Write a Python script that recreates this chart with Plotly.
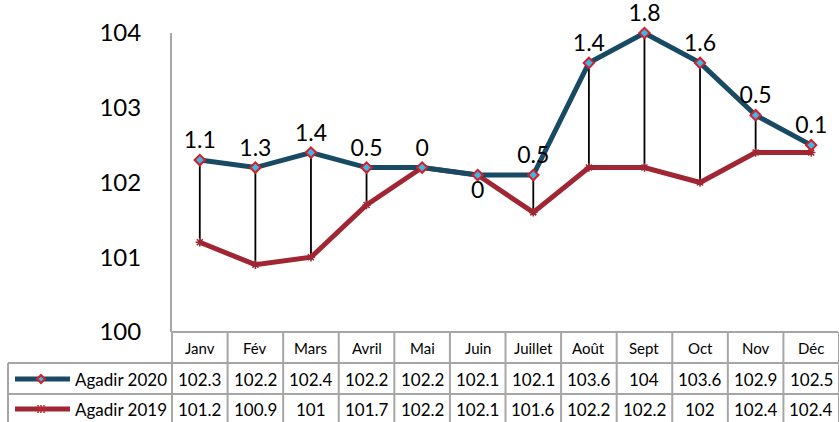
import plotly.graph_objects as go

months = ["Janv", "Fév", "Mars", "Avril", "Mai", "Juin", "Juillet", "Août", "Sept", "Oct", "Nov", "Déc"]
agadir_2020 = [102.3, 102.2, 102.4, 102.2, 102.2, 102.1, 102.1, 103.6, 104, 103.6, 102.9, 102.5]
agadir_2019 = [101.2, 100.9, 101, 101.7, 102.2, 102.1, 101.6, 102.2, 102.2, 102, 102.4, 102.4]
series_names = ["Agadir 2020", "Agadir 2019"]
y_ticks = [100, 101, 102, 103, 104]

C2020 = "#184A63"
C2019 = "#A02633"
GRID = "#A6A6A6"
FONT = "Lato"

W, H = 839, 422
ML, MR, MT, MB = 172, 0, 33, 90

diffs = [round(a - b, 1) for a, b in zip(agadir_2020, agadir_2019)]
labels = [f"{d:g}" for d in diffs]
positions = ["bottom center" if m == "Juin" else "top center" for m in months]

fig = go.Figure()

# drop lines between the two series
dx, dy = [], []
for m, a, b in zip(months, agadir_2020, agadir_2019):
    dx += [m, m, None]
    dy += [a, b, None]
fig.add_trace(go.Scatter(x=dx, y=dy, mode="lines", line=dict(color="black", width=1.8),
                         hoverinfo="skip", showlegend=False))

fig.add_trace(go.Scatter(
    x=months, y=agadir_2019, mode="lines+markers", name=series_names[1],
    line=dict(color=C2019, width=5),
    marker=dict(symbol="asterisk-open", size=7, line=dict(color="#C0282D", width=1.5)),
    showlegend=False, cliponaxis=False))

fig.add_trace(go.Scatter(
    x=months, y=agadir_2020, mode="lines+markers+text", name=series_names[0],
    line=dict(color=C2020, width=5),
    marker=dict(symbol="diamond", size=8, color="#3FB6E8", line=dict(color="#D0202A", width=2)),
    text=labels, textposition=positions,
    textfont=dict(family=FONT, size=23, color="black"),
    showlegend=False, cliponaxis=False))

shapes = []
ann = []

def hline(yoff, x_from_px):
    shapes.append(dict(type="line", xref="paper", yref="paper",
                       xsizemode="pixel", xanchor=0, ysizemode="pixel", yanchor=0,
                       x0=x_from_px, x1=W - ML - 1, y0=yoff, y1=yoff,
                       line=dict(color=GRID, width=2), layer="above"))

hline(0, 0)
hline(-31, 8 - ML)
hline(-62, 8 - ML)
hline(-92, 8 - ML)
# left border of legend column
shapes.append(dict(type="line", xref="paper", yref="paper", xsizemode="pixel", xanchor=0,
                   ysizemode="pixel", yanchor=0, x0=8 - ML, x1=8 - ML, y0=-31, y1=-92,
                   line=dict(color=GRID, width=2)))
# axis column border
shapes.append(dict(type="line", xref="paper", yref="paper", xsizemode="pixel", xanchor=0,
                   ysizemode="pixel", yanchor=0, x0=0, x1=0, y0=0, y1=-92,
                   line=dict(color=GRID, width=2)))
# category borders
for i in range(len(months)):
    shapes.append(dict(type="line", xref="x", yref="paper", ysizemode="pixel", yanchor=0,
                       x0=i + 0.5, x1=i + 0.5, y0=0, y1=-92,
                       line=dict(color=GRID, width=2)))

for i, m in enumerate(months):
    ann.append(dict(x=m, xref="x", y=0, yref="paper", yshift=-16, text=m, showarrow=False,
                    yanchor="middle", font=dict(family=FONT, size=15, color="black")))
    ann.append(dict(x=m, xref="x", y=0, yref="paper", yshift=-47, text=f"{agadir_2020[i]:g}",
                    showarrow=False, yanchor="middle", font=dict(family=FONT, size=17, color="black")))
    ann.append(dict(x=m, xref="x", y=0, yref="paper", yshift=-77, text=f"{agadir_2019[i]:g}",
                    showarrow=False, yanchor="middle", font=dict(family=FONT, size=17, color="black")))

# legend keys inside table
for k, (name, col, yoff) in enumerate([(series_names[0], C2020, -47), (series_names[1], C2019, -77)]):
    shapes.append(dict(type="line", xref="paper", yref="paper", xsizemode="pixel", xanchor=0,
                       ysizemode="pixel", yanchor=0, x0=15 - ML, x1=70 - ML, y0=yoff, y1=yoff,
                       line=dict(color=col, width=5)))
    cx = 41 - ML
    if k == 0:
        shapes.append(dict(type="path", xref="paper", yref="paper", xsizemode="pixel", xanchor=0,
                           ysizemode="pixel", yanchor=0,
                           path=f"M{cx-4},{yoff} L{cx},{yoff+4} L{cx+4},{yoff} L{cx},{yoff-4} Z",
                           fillcolor="#3FB6E8", line=dict(color="#D0202A", width=2)))
    else:
        for d in (-3, 0, 3):
            shapes.append(dict(type="line", xref="paper", yref="paper", xsizemode="pixel", xanchor=0,
                               ysizemode="pixel", yanchor=0, x0=cx + d, x1=cx + d, y0=yoff - 4, y1=yoff + 4,
                               line=dict(color="#C0282D", width=1.5)))
    ann.append(dict(x=0, xref="paper", xshift=73 - ML, y=0, yref="paper", yshift=yoff,
                    xanchor="left", yanchor="middle", text=name, showarrow=False,
                    font=dict(family=FONT, size=17, color="black")))

fig.update_layout(
    width=W, height=H, margin=dict(l=ML, r=MR, t=MT, b=MB),
    paper_bgcolor="white", plot_bgcolor="white",
    shapes=shapes, annotations=ann,
    xaxis=dict(type="category", range=[-0.5, len(months) - 0.5], showticklabels=False,
               showgrid=False, zeroline=False, showline=False, ticks=""),
    yaxis=dict(range=[100, 104], tickvals=y_ticks, showgrid=False, zeroline=False,
               showline=True, linecolor=GRID, linewidth=2, ticks="",
               ticklabelstandoff=24, tickfont=dict(family=FONT, size=24, color="black")),
)

fig.write_html("out.html", config={"displayModeBar": False},
               post_script="document.body.style.margin='0';document.body.style.overflow='hidden';")
